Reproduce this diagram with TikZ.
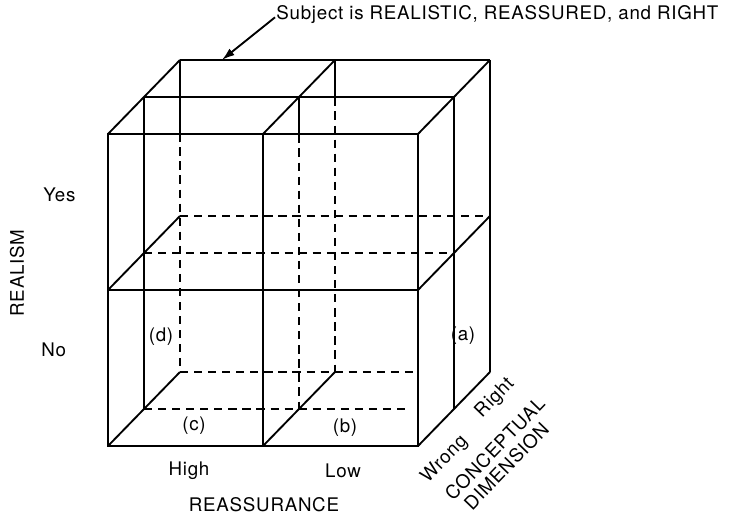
\documentclass[tikz,border=0pt]{standalone}
\usepackage{fontspec}
\setmainfont{TeX Gyre Heros}[LetterSpace=4]
\usetikzlibrary{arrows.meta}

\begin{document}
\begin{tikzpicture}[
    edge/.style={line width=1.6pt},
    hidden/.style={line width=1.4pt, dash pattern=on 7pt off 5pt},
    lbl/.style={font=\fontsize{16}{19}\selectfont, inner sep=1pt}
]
\useasboundingbox (-3.24,-2.1) rectangle (18.66,13.38);

% corners of the 2x2x2 block
\begin{scope}[x={(4.65cm,0cm)}, y={(0cm,4.68cm)}, z={(1.08cm,1.11cm)}]
\foreach \i in {0,1,2} {
  \foreach \j in {0,1,2} {
    \foreach \k in {0,1,2} {
      \coordinate (p\i\j\k) at (\i,\j,\k);
    }
  }
}
% where the inner lines turn dashed
\coordinate (bl) at (0,1.53,2);
\coordinate (bm) at (1,1.76,2);
\coordinate (mm) at (1,1.76,1);
\coordinate (eb) at (1.52,0,2);
\coordinate (em) at (1.72,0,1);
\coordinate (tip) at (0.27,2,2);
\end{scope}

% front face
\draw[edge] (p000) -- (p200) -- (p220) -- (p020) -- cycle;
\draw[edge] (p100) -- (p120);
\draw[edge] (p010) -- (p210);

% top face
\foreach \k in {1,2} {
  \draw[edge] (p02\k) -- (p22\k);
}
\foreach \i in {0,1,2} {
  \draw[edge] (p\i20) -- (p\i22);
}

% right face
\foreach \k in {1,2} {
  \draw[edge] (p20\k) -- (p22\k);
}
\foreach \j in {0,1} {
  \draw[edge] (p2\j0) -- (p2\j2);
}

% left side and floor
\foreach \j in {0,1} {
  \draw[edge] (p0\j0) -- (p0\j2);
}
\draw[edge] (p100) -- (p102);
\draw[edge] (p001) -- (p021);

% inner verticals
\draw[edge] (p022) -- (bl);
\draw[edge] (p122) -- (bm);
\draw[edge] (p121) -- (mm);
\draw[hidden] (bl) -- (p002);
\draw[hidden] (bm) -- (p102);
\draw[hidden] (mm) -- (p101);

% hidden horizontals
\draw[hidden] (p012) -- (p212);
\draw[hidden] (p011) -- (p211);
\draw[hidden] (p002) -- (eb);
\draw[hidden] (p001) -- (em);

% cell labels
\node[lbl] (celld) at (1.59,3.27) {(d)};
\node[lbl] (cella) at (10.65,3.30) {(a)};
\node[lbl] (cellc) at (2.58,0.60) {(c)};
\node[lbl] (cellb) at (7.11,0.54) {(b)};

% realism axis
\node[lbl, anchor=west] (yes) at (-1.98,7.53) {Yes};
\node[lbl, anchor=west] (no) at (-2.04,2.88) {No};
\node[lbl, rotate=90] (realism) at (-2.73,5.19) {REALISM};

% reassurance axis
\node[lbl] (high) at (2.43,-0.75) {High};
\node[lbl] (low) at (7.05,-0.75) {Low};
\node[lbl] (reassur) at (4.68,-1.77) {REASSURANCE};

% conceptual axis
\node[lbl, rotate=46] (wrong) at (10.10,-0.40) {Wrong};
\node[lbl, rotate=46] (rgt) at (11.61,1.44) {Right};
\node[lbl, rotate=46] (concept) at (11.60,-0.08) {CONCEPTUAL};
\node[lbl, rotate=46] (dimen) at (11.95,-0.60) {DIMENSION};

% pointer to the top corner cell
\node[lbl, anchor=west] (subj) at (5.01,12.93) {Subject is REALISTIC, REASSURED, and RIGHT};
\draw[edge, -{Latex[length=11pt, width=7pt]}] ([yshift=-2pt]subj.west) -- (tip);
\end{tikzpicture}
\end{document}
